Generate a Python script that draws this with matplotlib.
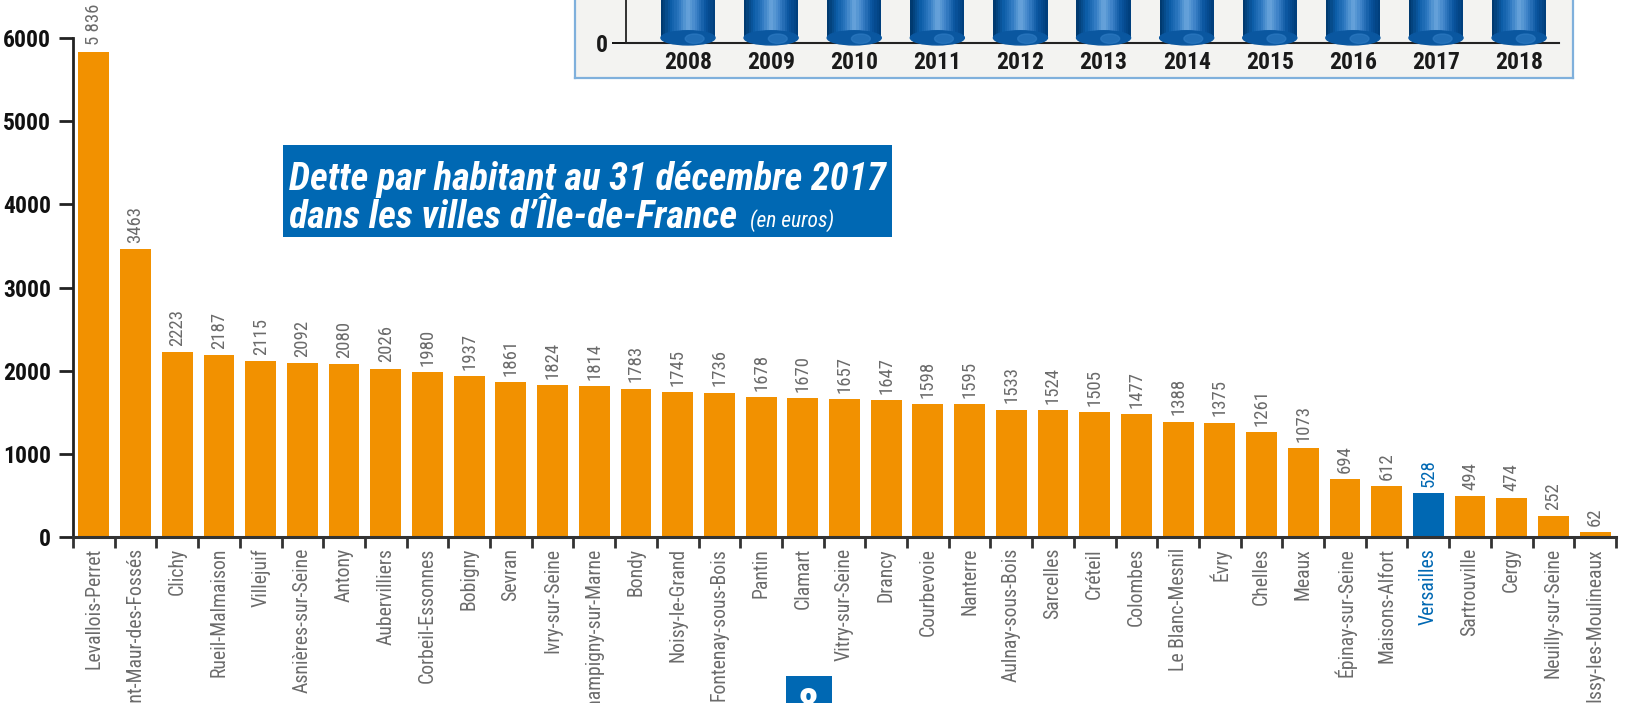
import matplotlib
matplotlib.use("Agg")
import matplotlib.pyplot as plt
from matplotlib import font_manager
from matplotlib.patches import Rectangle, Ellipse
from matplotlib.colors import LinearSegmentedColormap
import numpy as np

# Dette par habitant au 31/12/2017 (euros)
cities = ["Levallois-Perret", "Saint-Maur-des-Fossés", "Clichy", "Rueil-Malmaison",
          "Villejuif", "Asnières-sur-Seine", "Antony", "Aubervilliers",
          "Corbeil-Essonnes", "Bobigny", "Sevran", "Ivry-sur-Seine",
          "Champigny-sur-Marne", "Bondy", "Noisy-le-Grand", "Fontenay-sous-Bois",
          "Pantin", "Clamart", "Vitry-sur-Seine", "Drancy", "Courbevoie",
          "Nanterre", "Aulnay-sous-Bois", "Sarcelles", "Créteil", "Colombes",
          "Le Blanc-Mesnil", "Évry", "Chelles", "Meaux", "Épinay-sur-Seine",
          "Maisons-Alfort", "Versailles", "Sartrouville", "Cergy",
          "Neuilly-sur-Seine", "Issy-les-Moulineaux"]
debt = [5836, 3463, 2223, 2187, 2115, 2092, 2080, 2026, 1980, 1937, 1861, 1824,
        1814, 1783, 1745, 1736, 1678, 1670, 1657, 1647, 1598, 1595, 1533, 1524,
        1505, 1477, 1388, 1375, 1261, 1073, 694, 612, 528, 494, 474, 252, 62]
highlight = "Versailles"
yticks = [0, 1000, 2000, 3000, 4000, 5000, 6000]

# inset (top right), bars run off the top of the picture
years = [2008, 2009, 2010, 2011, 2012, 2013, 2014, 2015, 2016, 2017, 2018]
inset_values = [60, 60, 60, 60, 60, 60, 60, 60, 60, 60, 60]

ORANGE = "#f29100"
BLUE = "#0068b3"
GREY = "#6b6b6b"

# pick a condensed font if there is one
names = {f.name for f in font_manager.fontManager.ttflist}
cond = "DejaVu Sans"
for n in ["Roboto Condensed", "Liberation Sans Narrow", "DejaVu Sans Condensed", "Liberation Sans"]:
    if n in names:
        cond = n
        break
FAM = [cond, "DejaVu Sans"]
plt.rcParams["font.family"] = FAM

W, H = 1626, 703
fig = plt.figure(figsize=(W / 100, H / 100), dpi=100)

# main bar chart
ax = fig.add_axes([73 / W, (H - 537) / H, (1616 - 73) / W, 537 / H])
x = np.arange(len(cities))
colors = [BLUE if c == highlight else ORANGE for c in cities]
ax.bar(x, debt, width=0.74, color=colors, zorder=2)
ax.set_xlim(-0.5, len(cities) - 0.5)
ax.set_ylim(0, 6457)

for i, v in enumerate(debt):
    lab = f"{v:,}".replace(",", " ") if v >= 5000 else str(v)
    ax.annotate(lab, (i, v), xytext=(0, 4.5), textcoords="offset points",
                rotation=90, ha="center", va="bottom", fontsize=13.5,
                color=BLUE if cities[i] == highlight else GREY)

for s in ["top", "right"]:
    ax.spines[s].set_visible(False)
ax.spines["left"].set_bounds(0, 6000)
ax.spines["left"].set_linewidth(2)
ax.spines["bottom"].set_linewidth(2.2)
ax.spines["left"].set_color("#222222")
ax.spines["bottom"].set_color("#333333")

ax.set_yticks(yticks)
ax.set_yticklabels([str(t) for t in yticks], fontsize=17, fontweight="bold", color="#111111")
ax.tick_params(axis="y", length=10, width=2, pad=6, color="#222222")

ax.set_xticks(x)
ax.set_xticklabels(cities, rotation=90, fontsize=14.2, color=GREY, va="top", ha="center")
ax.set_xticks(np.arange(-0.5, len(cities)), minor=True)
ax.tick_params(axis="x", which="major", length=0, pad=8)
ax.tick_params(axis="x", which="minor", length=8, width=2, color="#333333")
for lbl in ax.get_xticklabels():
    if lbl.get_text() == highlight:
        lbl.set_color(BLUE)

# inset panel frame
panel = fig.add_axes([575 / W, (H - 78) / H, (1573 - 575) / W, 78 / H + 0.02])
panel.set_facecolor("#f3f3f1")
panel.set_xticks([])
panel.set_yticks([])
panel.spines["top"].set_visible(False)
for s in ["left", "right", "bottom"]:
    panel.spines[s].set_color("#7fb0dc")
    panel.spines[s].set_linewidth(1.6)
panel.set_zorder(0)

# inset chart
ins = fig.add_axes([626 / W, (H - 43) / H, (1559 - 626) / W, 43 / H])
ins.patch.set_alpha(0)
ins.set_zorder(1)
ins.set_xlim(-0.746, 10.48)
ins.set_ylim(0, 10)
cyl = LinearSegmentedColormap.from_list(
    "cyl", ["#003a70", "#0b5ca6", "#2d78c0", "#6aa5dc", "#3a80c6", "#0a55a0", "#003f7d"])
bw = 0.65
nstrip = 24
sw = bw / nstrip
base = 1.2
for j, (yr, val) in enumerate(zip(years, inset_values)):
    for k in range(nstrip):
        off = -bw / 2 + sw * (k + 0.5)
        ins.bar(j + off, val - base, bottom=base, width=sw * 1.05,
                color=cyl(k / (nstrip - 1)), linewidth=0)
    ins.add_patch(Ellipse((j, base), bw, 3.3, color="#0a57a0", clip_on=False, zorder=3))
    ins.add_patch(Ellipse((j + 0.08, base - 0.2), bw * 0.35, 2.2, color="#2f7cc4",
                          clip_on=False, zorder=3, alpha=0.6))
for s in ["top", "right"]:
    ins.spines[s].set_visible(False)
ins.spines["left"].set_color("#222222")
ins.spines["bottom"].set_color("#222222")
ins.spines["left"].set_linewidth(1.3)
ins.spines["bottom"].set_linewidth(1.5)
ins.set_xticks(range(len(years)))
ins.set_xticklabels([str(y) for y in years], fontsize=17, fontweight="bold", color="#1a1a1a")
ins.tick_params(axis="x", length=0, pad=6)
ins.set_yticks([0])
ins.set_yticklabels(["0"], fontsize=17, fontweight="bold", color="#1a1a1a")
ins.tick_params(axis="y", length=10, width=1.3, pad=3)

# title box
fig.patches.append(Rectangle((283 / W, (H - 237) / H), (892 - 283) / W, (237 - 145) / H,
                             transform=fig.transFigure, facecolor=BLUE, edgecolor="none", zorder=5))
fig.text(289 / W, (H - 190) / H, "Dette par habitant au 31 décembre 2017", color="white",
         fontsize=27.5, fontweight="bold", style="italic", va="baseline", ha="left", zorder=6)
t2 = fig.text(289 / W, (H - 228) / H, "dans les villes d\u2019Île-de-France", color="white",
              fontsize=27.5, fontweight="bold", style="italic", va="baseline", ha="left", zorder=6)
fig.texts.append(plt.Annotation("(en euros)", xy=(1, 0), xycoords=t2, xytext=(9, 3),
                                textcoords="offset points", color="white", fontsize=15.5,
                                style="italic", va="bottom", ha="left", zorder=6))
fig.texts[-1].set_figure(fig)

# page number tab
fig.patches.append(Rectangle((786 / W, 0), (832 - 786) / W, (H - 676) / H,
                             transform=fig.transFigure, facecolor=BLUE, edgecolor="none", zorder=5))
fig.text(809 / W, (H - 686) / H, "8", color="white", fontsize=30, fontweight="bold",
         ha="center", va="top", zorder=6)

fig.savefig("out.png", dpi=100)
